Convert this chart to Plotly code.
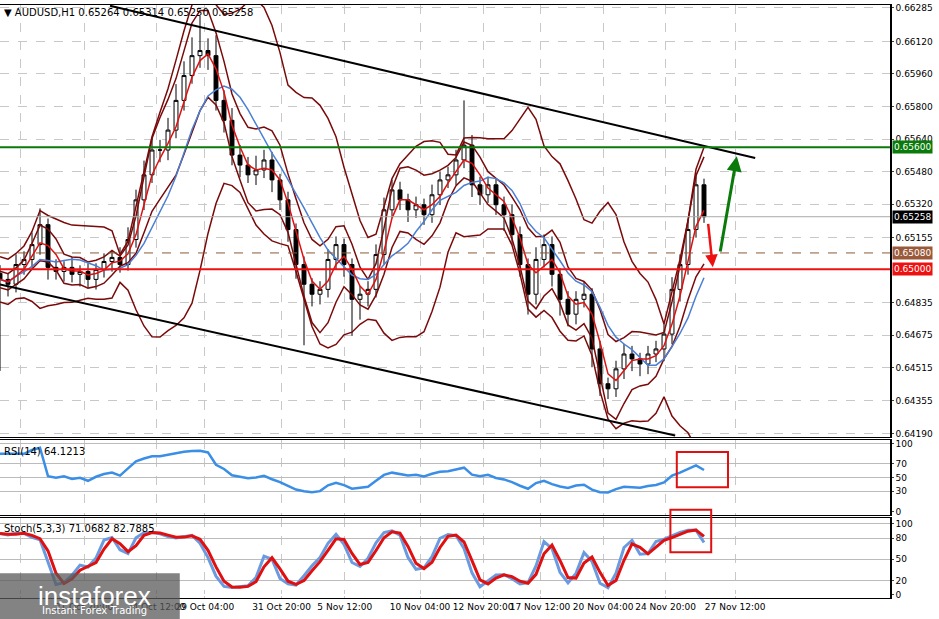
import numpy as np
import pandas as pd
import plotly.graph_objects as go
from plotly.subplots import make_subplots

# closes, one bar per 8 px of the reference
closes = [0.64950, 0.64926, 0.65023, 0.65048, 0.65121, 0.65219, 0.65009, 0.64989, 0.65009, 0.64975,
          0.64989, 0.64950, 0.64999, 0.65038, 0.65058, 0.65023, 0.65146, 0.65341, 0.65464, 0.65586,
          0.65586, 0.65684, 0.65830, 0.65952, 0.66050, 0.66075, 0.66050, 0.65830, 0.65732, 0.65561,
          0.65512, 0.65464, 0.65488, 0.65537, 0.65439, 0.65341, 0.65195, 0.65023, 0.64926, 0.64877,
          0.64901, 0.65048, 0.65121, 0.65023, 0.64852, 0.64877, 0.64901, 0.65072, 0.65292, 0.65390,
          0.65341, 0.65292, 0.65317, 0.65268, 0.65366, 0.65439, 0.65464, 0.65537, 0.65610, 0.65415,
          0.65366, 0.65415, 0.65317, 0.65268, 0.65170, 0.65023, 0.64877, 0.65048, 0.65121, 0.64975,
          0.64852, 0.64779, 0.64852, 0.64877, 0.64608, 0.64437, 0.64412, 0.64510, 0.64583, 0.64559,
          0.64534, 0.64583, 0.64608, 0.64681, 0.64901, 0.65023, 0.65195, 0.65415, 0.65258]
opens = [0.64980] + closes[:-1]
wick_up = [0.0004, 0.0003, 0.0005, 0.0004, 0.0006, 0.0008, 0.0003, 0.0004, 0.0003, 0.0005,
           0.0003, 0.0004, 0.0003, 0.0004, 0.0003, 0.0005, 0.0006, 0.0005, 0.0007, 0.0006,
           0.0005, 0.0006, 0.0008, 0.0007, 0.0009, 0.0017, 0.0006, 0.0010, 0.0005, 0.0006,
           0.0005, 0.0004, 0.0007, 0.0005, 0.0004, 0.0003, 0.0004, 0.0003, 0.0004, 0.0003,
           0.0004, 0.0005, 0.0004, 0.0003, 0.0003, 0.0004, 0.0004, 0.0005, 0.0006, 0.0005,
           0.0004, 0.0003, 0.0004, 0.0003, 0.0005, 0.0004, 0.0004, 0.0005, 0.0022, 0.0005,
           0.0004, 0.0004, 0.0003, 0.0004, 0.0005, 0.0004, 0.0003, 0.0006, 0.0005, 0.0004,
           0.0003, 0.0004, 0.0004, 0.0006, 0.0003, 0.0004, 0.0003, 0.0004, 0.0005, 0.0004,
           0.0003, 0.0004, 0.0004, 0.0005, 0.0006, 0.0005, 0.0005, 0.0006, 0.0003]
wick_dn = [0.0045, 0.0006, 0.0004, 0.0005, 0.0004, 0.0005, 0.0006, 0.0004, 0.0005, 0.0004,
           0.0006, 0.0004, 0.0005, 0.0004, 0.0005, 0.0004, 0.0003, 0.0004, 0.0005, 0.0004,
           0.0006, 0.0005, 0.0004, 0.0005, 0.0004, 0.0006, 0.0007, 0.0005, 0.0006, 0.0005,
           0.0006, 0.0004, 0.0005, 0.0004, 0.0006, 0.0005, 0.0006, 0.0007, 0.0030, 0.0006,
           0.0005, 0.0004, 0.0005, 0.0006, 0.0018, 0.0010, 0.0006, 0.0004, 0.0005, 0.0004,
           0.0005, 0.0006, 0.0004, 0.0005, 0.0004, 0.0005, 0.0004, 0.0005, 0.0004, 0.0006,
           0.0005, 0.0004, 0.0005, 0.0008, 0.0005, 0.0006, 0.0010, 0.0005, 0.0004, 0.0006,
           0.0008, 0.0006, 0.0005, 0.0004, 0.0009, 0.0006, 0.0005, 0.0004, 0.0005, 0.0006,
           0.0006, 0.0005, 0.0004, 0.0006, 0.0005, 0.0006, 0.0005, 0.0004, 0.0003]
highs = [max(o, c) + w for o, c, w in zip(opens, closes, wick_up)]
lows = [min(o, c) - w for o, c, w in zip(opens, closes, wick_dn)]
bars = list(range(len(closes)))

# channel lines (bar index, price)
upper_x = [13.75, 94.4]
upper_y = [0.66295, 0.65547]
lower_x = [0.0, 84.4]
lower_y = [0.64925, 0.64182]

levels = {"green": 0.65600, "brown": 0.65080, "red": 0.65000, "last": 0.65258}
price_ticks = [0.66285, 0.66120, 0.65960, 0.65800, 0.65640, 0.65480, 0.65320, 0.65155,
               0.64835, 0.64675, 0.64515, 0.64355, 0.64190]
date_pos = [2.5, 10.5, 19.5, 25.6, 35.2, 43.1, 52.5, 60.4, 67.5, 75.4, 83.2, 91.9]
date_labels = ["17 Oct 2025", "21 Oct 20:00", "24 Oct 12:00", "29 Oct 04:00", "31 Oct 20:00",
               "5 Nov 12:00", "10 Nov 04:00", "12 Nov 20:00", "17 Nov 12:00", "20 Nov 04:00",
               "24 Nov 20:00", "27 Nov 12:00"]

s = pd.Series(closes)
ma_fast = s.rolling(3, min_periods=1).mean()
ma_slow = s.rolling(8, min_periods=1).mean()
mid = s.rolling(10, min_periods=1).mean()
sd = s.rolling(10, min_periods=3).std().bfill()
bb_up, bb_lo = mid + 2.2 * sd, mid - 2.2 * sd
in_up, in_lo = ma_fast + 0.8 * sd, ma_fast - 0.8 * sd

d = s.diff().fillna(0)
gain = d.clip(lower=0).ewm(alpha=1 / 14).mean()
loss = (-d.clip(upper=0)).ewm(alpha=1 / 14).mean()
rsi = (100 - 100 / (1 + gain / loss.replace(0, np.nan))).fillna(50)
rsi.iloc[:3] = rsi.iloc[3]
hh = pd.Series(highs).rolling(3, min_periods=1).max()
ll = pd.Series(lows).rolling(3, min_periods=1).min()
k = (100 * (s - ll) / (hh - ll)).rolling(2, min_periods=1).mean()
dline = k.rolling(2, min_periods=1).mean()

fig = make_subplots(rows=3, cols=1, shared_xaxes=True)
fig.add_trace(go.Candlestick(x=bars, open=opens, high=highs, low=lows, close=closes,
                             increasing=dict(line=dict(color="black", width=1), fillcolor="white"),
                             decreasing=dict(line=dict(color="black", width=1), fillcolor="black"),
                             whiskerwidth=0), 1, 1)
dark = "#7a0a0a"
for ser in [bb_up, bb_lo, in_up, in_lo]:
    fig.add_trace(go.Scatter(x=bars, y=ser, mode="lines", line=dict(color=dark, width=1.5)), 1, 1)
fig.add_trace(go.Scatter(x=bars, y=ma_slow, mode="lines", line=dict(color="#4a7fd4", width=1.5)), 1, 1)
fig.add_trace(go.Scatter(x=bars, y=ma_fast, mode="lines", line=dict(color="#e01010", width=1.5)), 1, 1)
fig.add_trace(go.Scatter(x=upper_x, y=upper_y, mode="lines", line=dict(color="black", width=2)), 1, 1)
fig.add_trace(go.Scatter(x=lower_x, y=lower_y, mode="lines", line=dict(color="black", width=2)), 1, 1)

fig.add_trace(go.Scatter(x=bars, y=rsi, mode="lines", line=dict(color="#3a8ee6", width=2.5)), 2, 1)
fig.add_trace(go.Scatter(x=bars, y=k, mode="lines", line=dict(color="#6a9be0", width=3)), 3, 1)
fig.add_trace(go.Scatter(x=bars, y=dline, mode="lines", line=dict(color="#e01010", width=3)), 3, 1)

grid = dict(showgrid=True, gridcolor="#c8c8c8", griddash="dash", gridwidth=1)
fig.update_xaxes(range=[0, 111.25], tickvals=date_pos, ticktext=date_labels, showticklabels=False,
                 rangeslider_visible=False, mirror=True, showline=True, linecolor="black",
                 tickangle=0, automargin=False, **grid)
fig.update_xaxes(showticklabels=True, row=3, col=1, tickfont=dict(size=9, color="black"))
fig.update_yaxes(side="right", mirror=True, showline=True, linecolor="black", linewidth=1.5,
                 tickfont=dict(size=9, color="black"), ticks="outside", ticklen=2, automargin=False)
fig.update_yaxes(range=[0.64175, 0.66300], tickvals=price_ticks,
                 ticktext=[f"{v:.5f}" for v in price_ticks], row=1, col=1, **grid)
fig.update_yaxes(range=[-5, 105], tickvals=[0, 30, 50, 70, 100], showgrid=True, gridcolor="#bbbbbb", row=2, col=1)
fig.update_yaxes(range=[-5, 108], tickvals=[0, 20, 50, 80, 100], showgrid=True, gridcolor="#bbbbbb", row=3, col=1)
fig.update_layout(yaxis=dict(domain=[0.273, 0.997]), yaxis2=dict(domain=[0.142, 0.268]),
                  yaxis3=dict(domain=[0.003, 0.137]))

for name, col, dash, w in [("green", "#0a7a0a", "solid", 2), ("brown", "#8a5a3a", "dash", 1),
                           ("red", "#ee1111", "solid", 2), ("last", "#aaaaaa", "solid", 1)]:
    fig.add_hline(y=levels[name], line=dict(color=col, dash=dash, width=w), row=1, col=1)
    bg = {"green": "#0a7a0a", "brown": "#9a5a3a", "red": "#ee1111", "last": "black"}[name]
    fig.add_annotation(x=1.002, xref="paper", y=levels[name], yref="y", text=f"{levels[name]:.5f}",
                       showarrow=False, xanchor="left", bgcolor=bg, font=dict(color="white", size=9),
                       borderpad=1)

# forecast arrows
fig.add_annotation(x=92.1, y=0.65555, ax=90, ay=0.65080, xref="x", yref="y", axref="x", ayref="y",
                   arrowcolor="#0a7a0a", arrowwidth=3, arrowhead=2, text="")
fig.add_annotation(x=89.1, y=0.65010, ax=88.5, ay=0.65230, xref="x", yref="y", axref="x", ayref="y",
                   arrowcolor="#ee1111", arrowwidth=2.5, arrowhead=2, text="")
fig.add_shape(type="rect", x0=84.6, x1=91, y0=0.189, y1=0.248, xref="x", yref="paper",
              line=dict(color="#e01010", width=2))
fig.add_shape(type="rect", x0=83.8, x1=88.9, y0=0.080, y1=0.151, xref="x", yref="paper",
              line=dict(color="#e01010", width=2))

fig.add_annotation(x=0.002, y=0.997, xref="paper", yref="paper", xanchor="left", yanchor="top",
                   showarrow=False, text="▼ AUDUSD,H1 0.65264 0.65314 0.65250 0.65258",
                   font=dict(size=10, color="black"))
fig.add_annotation(x=0.002, y=0.262, xref="paper", yref="paper", xanchor="left", yanchor="top",
                   showarrow=False, text="RSI(14) 64.1213", font=dict(size=10, color="black"))
fig.add_annotation(x=0.002, y=0.133, xref="paper", yref="paper", xanchor="left", yanchor="top",
                   showarrow=False, text="Stoch(5,3,3) 71.0682 82.7885", font=dict(size=10, color="black"))

# watermark
fig.add_shape(type="rect", x0=0, x1=0.202, y0=-0.032, y1=0.045, xref="paper", yref="paper",
              fillcolor="rgba(90,90,90,0.75)", line_width=0)
fig.add_annotation(x=0.04, y=0.035, xref="paper", yref="paper", xanchor="left", yanchor="top",
                   showarrow=False, text="instaforex", font=dict(size=26, color="white", family="Arial"))
fig.add_annotation(x=0.045, y=-0.005, xref="paper", yref="paper", xanchor="left", yanchor="top",
                   showarrow=False, text="Instant Forex Trading", font=dict(size=10, color="white"))

fig.update_layout(width=939, height=619, margin=dict(l=0, r=49, t=3, b=19), showlegend=False,
                  paper_bgcolor="white", plot_bgcolor="white", font=dict(family="DejaVu Sans", size=10))
fig.write_html("out.html", config={"displayModeBar": False},
               post_script="document.body.style.margin='0';")
